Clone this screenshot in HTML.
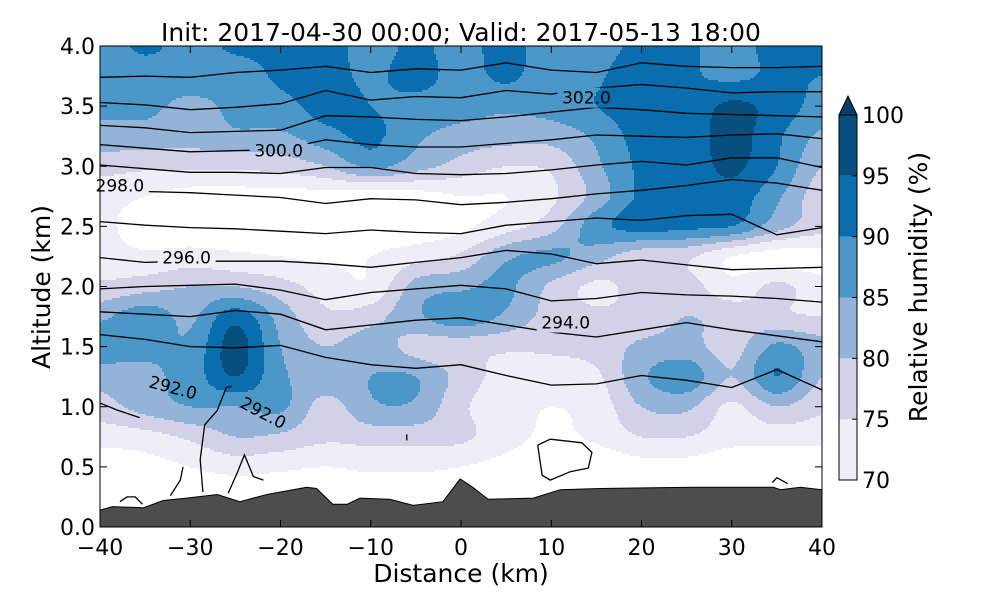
<!DOCTYPE html>
<html><head><meta charset="utf-8"><style>
html,body{margin:0;padding:0;background:#fff;}
svg{display:block;font-family:"DejaVu Sans","Liberation Sans",sans-serif;}
</style></head><body>
<svg id="chart" width="1000" height="600" viewBox="0 0 1000 600">
<g id="fill" clip-path="url(#plotclip)" shape-rendering="crispEdges"></g>
<g id="terrain" clip-path="url(#plotclip)"></g>
<g id="lines" clip-path="url(#plotclip)" mask="url(#lblmask)"></g>
<g id="labels"></g>
<g id="axes"></g>
<g id="cbar"></g>
<defs>
<clipPath id="plotclip"><rect x="100" y="46" width="722" height="481"/></clipPath>
<mask id="lblmask" maskUnits="userSpaceOnUse" x="0" y="0" width="1000" height="600"><rect x="0" y="0" width="1000" height="600" fill="#fff"/><g id="maskholes"></g></mask>
</defs>
</svg>
<script>
const xs=[-40,-35,-30,-25,-20,-15,-10,-5,0,5,10,15,20,25,30,35,40];
const alts=[0,0.25,0.5,0.75,1,1.25,1.5,1.75,2,2.25,2.5,2.75,3,3.25,3.5,3.75,4];
// RH rows, bottom (0 km) to top (4 km)
const rh0=[64,64,64,64,64,64,64,64,64,64,64,64,64,64,64,64,64];
const rh025=[65,65,66,66,66,66,66,66,66,65,64,64,65,65,65,65,65];
const rh05=[67,68,70,72,71,70,71,71,70,68,66,66,68,68,66,66,66];
const rh075=[72,73,76,80,79,76,77,77,76,72,69,71,75,75,72,72,72];
const rh10=[78,82,85,85,86,78,84,84,76,72,70,72,80,81,74,80,76];
const rh125=[82,84,87,95,86,83,85,85,78,73,72,74,84,88,80,90,80];
const rh15=[88,86,86,97,85,80,83,78,77,76,76,77,81,82,78,86,82];
const rh175=[84,88,84,93,83,76,78,84,88,84,78,76,77,80,78,76,75];
const rh20=[76,78,80,80,77,73,71,82,84,86,79,74,77,77,72,76,72];
const rh225=[72,71,72,71,70,69,70,73,76,84,86,82,77,76,70,68,68];
const rh25=[71,68,67,67,67,67,67,67,69,73,78,88,92,91,90,82,77];
const rh275=[72,70,68,68,68,68,67,68,70,70,74,82,91,91,93,86,77];
const rh30=[77,76,76,76,77,80,86,82,78,75,76,84,91,92,96,90,80];
const rh325=[83,83,82,84,84,88,91,86,83,82,82,86,92,92,97,91,84];
const rh35=[86,86,84,86,88,92,90,88,87,86,87,90,93,92,96,93,88];
const rh375=[87,87,87,87,91,92,89,92,88,91,87,89,94,91,89,91,90];
const rh40=[87,91,88,91,91,92,88,91,88,92,87,87,92,91,88,92,92];
const rhRows=[rh0,rh025,rh05,rh075,rh10,rh125,rh15,rh175,rh20,rh225,rh25,rh275,rh30,rh325,rh35,rh375,rh40];
const levels=[70,75,80,85,90,95,100];
const levelColors=["#efedf5","#d1d1e7","#93b4d8","#4b97c7","#0a6eae","#064f7e"];
const topColor="#033f66";
// terrain
const terrX=[-40,-38.6,-35.2,-33,-30.4,-27,-24.5,-21.5,-17.1,-16,-14.2,-12.6,-11.2,-7.9,-5.3,-2,-0.1,1.3,3,8,11,15.4,25.7,34.6,35.4,37.6,40];
const terrAlt=[0.14,0.17,0.16,0.22,0.24,0.27,0.21,0.27,0.33,0.32,0.19,0.19,0.24,0.23,0.18,0.21,0.40,0.33,0.23,0.24,0.31,0.32,0.33,0.33,0.31,0.33,0.31];
// potential temperature contour altitudes at xs
const thA=[3.74,3.75,3.74,3.78,3.80,3.83,3.78,3.81,3.80,3.86,3.80,3.78,3.86,3.83,3.82,3.82,3.83];
const thB=[3.53,3.51,3.47,3.49,3.52,3.63,3.55,3.58,3.57,3.63,3.60,3.65,3.68,3.65,3.61,3.62,3.62];
const thC=[3.34,3.32,3.28,3.29,3.30,3.42,3.41,3.39,3.38,3.41,3.45,3.49,3.47,3.44,3.43,3.42,3.41];
const thD=[3.18,3.15,3.12,3.13,3.14,3.22,3.18,3.16,3.16,3.19,3.22,3.26,3.25,3.24,3.26,3.27,3.23];
const thE=[3.01,2.98,2.95,2.95,2.94,2.99,2.99,2.94,2.93,2.94,2.97,3.01,3.04,3.01,3.07,3.07,2.99];
const thF=[2.82,2.79,2.78,2.76,2.74,2.69,2.73,2.72,2.68,2.70,2.73,2.77,2.80,2.84,2.89,2.86,2.80];
const thG=[2.54,2.51,2.49,2.48,2.46,2.44,2.47,2.45,2.44,2.51,2.54,2.57,2.55,2.59,2.60,2.43,2.49];
const thH=[2.24,2.20,2.21,2.21,2.21,2.19,2.16,2.20,2.24,2.30,2.27,2.19,2.22,2.18,2.14,2.15,2.16];
const thI=[1.98,2.00,2.01,2.02,1.97,1.89,1.95,1.98,2.01,1.98,1.88,1.90,1.95,1.93,1.92,1.90,1.87];
const thJ=[1.79,1.77,1.75,1.80,1.77,1.64,1.68,1.72,1.74,1.68,1.62,1.58,1.64,1.70,1.64,1.59,1.54];
const thK=[1.60,1.56,1.50,1.49,1.51,1.41,1.35,1.32,1.35,1.26,1.18,1.19,1.26,1.22,1.16,1.31,1.14];
const thetaLines=[thA,thB,thC,thD,thE,thF,thG,thH,thI,thJ,thK];
// small contour fragments (km, alt)
const frag1X=[-40,-38,-35.6], frag1A=[1.03,0.97,0.91];
const frag2X=[-25.4,-26,-27,-28.4,-28.9,-28.6], frag2A=[1.17,1.16,0.97,0.85,0.56,0.29];
const frag3X=[-30.8,-31.1,-32.2], frag3A=[0.50,0.39,0.26];
const frag4X=[-25.8,-24.8,-24,-23,-21.9], frag4A=[0.28,0.45,0.60,0.42,0.39];
const frag5X=[-37.8,-37,-36.1,-35.3], frag5A=[0.21,0.25,0.25,0.19];
const frag6X=[8.5,9.9,13.4,14.5,14.1,12.1,9.9,9,8.5], frag6A=[0.68,0.73,0.70,0.62,0.49,0.46,0.39,0.43,0.68];
const frag7X=[34.5,35,36.2], frag7A=[0.37,0.41,0.36];
const frag8X=[-6,-6], frag8A=[0.77,0.72];
const frags=[[frag1X,frag1A],[frag2X,frag2A],[frag3X,frag3A],[frag4X,frag4A],[frag5X,frag5A],[frag6X,frag6A],[frag7X,frag7A],[frag8X,frag8A]];
// contour labels
const lblText=["302.0","300.0","298.0","296.0","294.0","292.0","292.0"];
const lblX=[13.9,-20.2,-37.8,-30.4,11.6,-31.9,-21.9];
const lblA=[3.57,3.13,2.84,2.24,1.70,1.16,0.95];
const lblRot=[0,0,0,0,0,15,28];
const xTicks=[-40,-30,-20,-10,0,10,20,30,40];
const yTicks=[0,0.5,1,1.5,2,2.5,3,3.5,4];
const cbTicks=[70,75,80,85,90,95,100];

const NS="http://www.w3.org/2000/svg";
const X0=100,X1=822,Y0=527,Y1=46;
const sx=v=>X0+(v+40)/80*(X1-X0);
const sy=a=>Y0-a/4*(Y0-Y1);
function mk(tag,attrs,parent){const e=document.createElementNS(NS,tag);for(const k in attrs)e.setAttribute(k,attrs[k]);parent.appendChild(e);return e;}
function cr(p0,p1,p2,p3,t){return 0.5*((2*p1)+(-p0+p2)*t+(2*p0-5*p1+4*p2-p3)*t*t+(-p0+3*p1-3*p2+p3)*t*t*t);}
function g(j,i){j=Math.max(0,Math.min(16,j));i=Math.max(0,Math.min(16,i));return rhRows[j][i];}
function rhAt(x,a){
  let fi=(x+40)/5, fj=a/0.25;
  let i=Math.min(15,Math.max(0,Math.floor(fi))), j=Math.min(15,Math.max(0,Math.floor(fj)));
  let u=fi-i,v=fj-j;
  const col=[];
  for(let dj=-1;dj<=2;dj++){col.push(cr(g(j+dj,i-1),g(j+dj,i),g(j+dj,i+1),g(j+dj,i+2),u));}
  return cr(col[0],col[1],col[2],col[3],v);
}
function colorOf(r){
  if(r<levels[0])return null;
  for(let k=0;k<levelColors.length;k++) if(r<levels[k+1])return levelColors[k];
  return levelColors[levelColors.length-1];
}
// fill
const fillG=document.getElementById('fill');
const step=2;
for(let py=Y1;py<Y0;py+=step){
  const a=(Y0-(py+step/2))/(Y0-Y1)*4;
  let runStart=X0,runCol=null;
  for(let px=X0;px<=X1;px+=step){
    const x=px>=X1?null:((px+step/2-X0)/(X1-X0)*80-40);
    const c=x===null?"END":colorOf(rhAt(x,a));
    if(c!==runCol){
      if(runCol&&runCol!=="END"){
        const r=mk('rect',{x:runStart,y:py,width:Math.min(px,X1)-runStart,height:step,fill:runCol},fillG);
        
        
      }
      runStart=px;runCol=c;
    }
  }
}
// terrain
const tg=document.getElementById('terrain');
let tp="M"+sx(terrX[0])+","+(Y0+2);
terrX.forEach((x,i)=>{tp+=" L"+sx(x).toFixed(1)+","+sy(terrAlt[i]).toFixed(1);});
tp+=" L"+sx(terrX[terrX.length-1])+","+(Y0+2)+" Z";
const tpe=mk('path',{d:tp,fill:"#4d4d4d",stroke:"#000","stroke-width":1},tg);


// contours
const lg=document.getElementById('lines');
function polyline(X,A){return X.map((x,i)=>sx(x).toFixed(1)+","+sy(A[i]).toFixed(1)).join(" ");}
thetaLines.forEach((arr,k)=>{
  const p=mk('polyline',{points:polyline(xs,arr),fill:"none",stroke:"#000","stroke-width":1.3},lg);
  
  
});
frags.forEach(f=>{
  const p=mk('polyline',{points:polyline(f[0],f[1]),fill:"none",stroke:"#000","stroke-width":1.3},lg);
  
  
});
// labels + mask
const lblG=document.getElementById('labels'),holes=document.getElementById('maskholes');
lblText.forEach((t,i)=>{
  const cx=sx(lblX[i]),cy=sy(lblA[i]);
  const tx=mk('text',{x:cx,y:cy+6,"text-anchor":"middle","font-size":17,fill:"#000",transform:"rotate("+lblRot[i]+" "+cx+" "+cy+")"},lblG);
  tx.textContent=t;
  
  
  mk('rect',{x:cx-29,y:cy-10,width:58,height:20,fill:"#000",transform:"rotate("+lblRot[i]+" "+cx+" "+cy+")"},holes);
});
// axes
const ax=document.getElementById('axes');
const fr=mk('rect',{x:X0,y:Y1,width:X1-X0,height:Y0-Y1,fill:"none",stroke:"#000","stroke-width":1},ax);


xTicks.forEach(v=>{
  const x=sx(v);
  mk('line',{x1:x,y1:Y0,x2:x,y2:Y0-7,stroke:"#000"},ax);
  mk('line',{x1:x,y1:Y1,x2:x,y2:Y1+7,stroke:"#000"},ax);
  const t=mk('text',{x:x,y:555,"text-anchor":"middle","font-size":22},ax);
  t.textContent=(v<0?"\u2212":"")+Math.abs(v);
  
  
});
yTicks.forEach(v=>{
  const y=sy(v);
  mk('line',{x1:X0,y1:y,x2:X0+7,y2:y,stroke:"#000"},ax);
  mk('line',{x1:X1,y1:y,x2:X1-7,y2:y,stroke:"#000"},ax);
  const t=mk('text',{x:95,y:y+8,"text-anchor":"end","font-size":22},ax);
  t.textContent=v.toFixed(1);
  
  
});
const title=mk('text',{x:461,y:41,"text-anchor":"middle","font-size":25},ax);
title.textContent="Init: 2017-04-30 00:00; Valid: 2017-05-13 18:00";


const xl=mk('text',{x:461,y:582,"text-anchor":"middle","font-size":25},ax);
xl.textContent="Distance (km)";


const yl=mk('text',{x:50,y:287,"text-anchor":"middle","font-size":25,transform:"rotate(-90 50 287)"},ax);
yl.textContent="Altitude (km)";


// colorbar
const cb=document.getElementById('cbar');
const CB0=839,CB1=857,CBb=480,CBt=115;
const cy=v=>CBb-(v-70)/30*(CBb-CBt);
levelColors.forEach((c,k)=>{
  const r=mk('rect',{x:CB0,y:cy(levels[k+1]),width:CB1-CB0,height:cy(levels[k])-cy(levels[k+1]),fill:c},cb);
  
  
});
const tri=mk('path',{d:`M${CB0},${CBt} L${(CB0+CB1)/2},96 L${CB1},${CBt} Z`,fill:topColor,stroke:"#000"},cb);


const cbf=mk('path',{d:`M${CB0},${CBt} L${CB0},${CBb} L${CB1},${CBb} L${CB1},${CBt}`,fill:"none",stroke:"#000"},cb);


cbTicks.forEach(v=>{
  const y=cy(v);
  mk('line',{x1:CB1,y1:y,x2:CB1-5,y2:y,stroke:"#000"},cb);
  const t=mk('text',{x:862,y:y+8,"font-size":22},cb);
  t.textContent=v;
  
  
});
const cl=mk('text',{x:927,y:287,"text-anchor":"middle","font-size":25,transform:"rotate(-90 927 287)"},cb);
cl.textContent="Relative humidity (%)";


</script>
</body></html>
